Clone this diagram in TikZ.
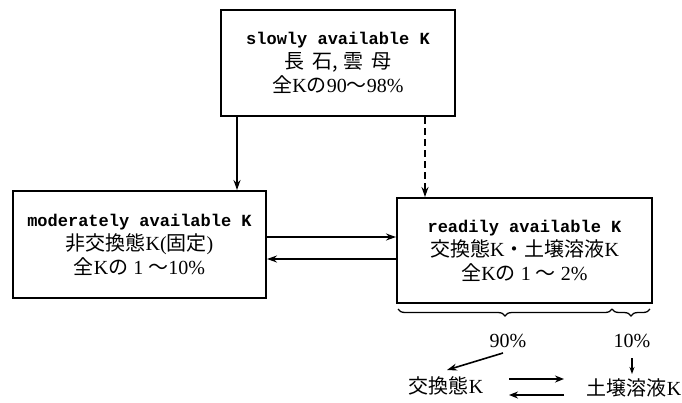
\documentclass[tikz,border=0pt]{standalone}
\usepackage{fontspec}
\setmainfont{Liberation Serif}
\setmonofont{Liberation Mono}
\newfontfamily\jpf{Noto Sans CJK JP}
\newcommand{\jp}[1]{{\jpf #1}}
\newcommand{\mono}[1]{{\fontsize{17}{24}\selectfont\ttfamily\bfseries #1}}
\usetikzlibrary{arrows.meta,decorations.pathreplacing}
\begin{document}
\begin{tikzpicture}[x=1pt,y=-1pt,
  box/.style={draw,line width=2pt,inner sep=0pt,align=center,
    font=\fontsize{20}{24}\selectfont},
  arr/.style={-{Stealth[length=10pt,width=7pt]},line width=1.6pt},
  lbl/.style={inner sep=0pt,font=\fontsize{20}{22}\selectfont}]
\useasboundingbox (0,0) rectangle (682,402);
\node[box,minimum width=234pt,minimum height=106pt] (slow) at (338,63)
  {\mono{slowly available K}\\
   \jp{長\hspace{8pt}石,\hspace{6pt}雲\hspace{8pt}母}\\
   \jp{全}K\jp{の}90\jp{〜}98\%};
\node[box,minimum width=253pt,minimum height=107pt] (mod) at (139.5,244.5)
  {\mono{moderately available K}\\
   \jp{非交換態}K(\jp{固定})\\
   \jp{全}K\jp{の}\ 1\ \jp{〜}10\%};
\node[box,minimum width=255pt,minimum height=105pt] (read) at (524.5,250.5)
  {\mono{readily available K}\\
   \jp{交換態}K\jp{・土壌溶液}K\\
   \jp{全}K\jp{の}\ 1\ \jp{〜}\ 2\%};
% vertical arrows
\draw[arr] (slow.south -| 237,0) -- (mod.north -| 237,0);
\draw[arr,dash pattern=on 7pt off 4pt] (slow.south -| 425,0) -- (read.north -| 425,0);
% horizontal arrows
\draw[arr] (mod.east |- 0,237) -- (read.west |- 0,237);
\draw[arr] (read.west |- 0,259) -- (mod.east |- 0,259);
% brace
\coordinate (b1) at (398,309);
\coordinate (b2) at (612,309);
\coordinate (b3) at (650,309);
\draw[line width=1.3pt,decorate,decoration={brace,mirror,amplitude=7pt}] (b1) -- (b2);
\draw[line width=1.3pt,decorate,decoration={brace,mirror,amplitude=7pt}] (b2) -- (b3);
\node[lbl] (p90) at (508,341) {90\%};
\node[lbl] (p10) at (632,341) {10\%};
\node[lbl] (ex) at (446,386) {\jp{交換態}K};
\node[lbl] (sol) at (634,388) {\jp{土壌溶液}K};
\coordinate (s90) at (503,353);
\coordinate (t90) at (447,370);
\draw[arr] (s90) -- (t90);
\coordinate (s10) at (632,358);
\coordinate (t10) at (632,374);
\draw[-{Stealth[length=7pt,width=5pt]},line width=1.4pt] (s10) -- (t10);
\coordinate (e1) at (509,379);
\coordinate (e2) at (564,379);
\coordinate (e3) at (564,395);
\coordinate (e4) at (509,395);
\draw[-{Stealth[length=9pt,width=7pt]},line width=2.6pt] (e1) -- (e2);
\draw[-{Stealth[length=9pt,width=7pt]},line width=2.6pt] (e3) -- (e4);
\end{tikzpicture}
\end{document}
